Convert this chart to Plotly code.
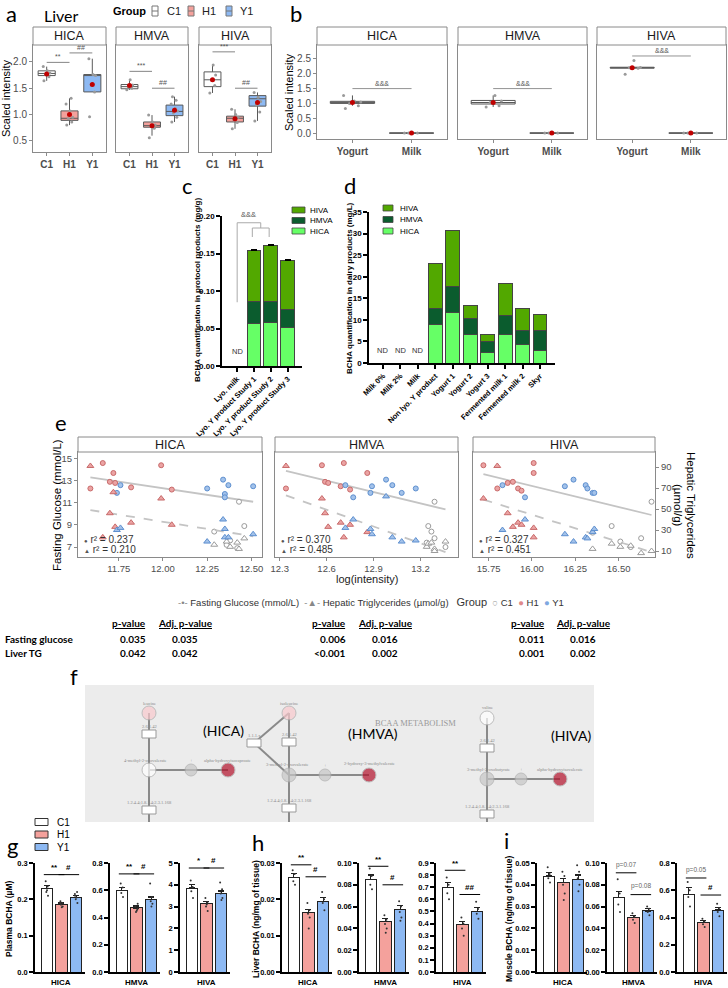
import plotly.graph_objects as go

W, H = 728, 988
def X(px): return px / W
def Y(py): return 1 - py / H

SANS = 'Liberation Sans, Arial, sans-serif'
CAL = 'Lato, Open Sans, sans-serif'
SERIF = 'Liberation Serif, serif'

GROUPS = ['C1', 'H1', 'Y1']
METABS = ['HICA', 'HMVA', 'HIVA']
FILL = {'C1': '#ffffff', 'H1': '#f4a19c', 'Y1': '#8db9f3'}

# ---------------- panel a data (scaled intensity, liver) ----------------
a_q1 = {'HICA': [1.74, 0.89, 1.43], 'HMVA': [1.49, 0.76, 0.98], 'HIVA': [1.53, 0.86, 1.16]}
a_med = {'HICA': [1.78, 0.93, 1.74], 'HMVA': [1.53, 0.79, 1.06], 'HIVA': [1.66, 0.93, 1.30]}
a_q3 = {'HICA': [1.83, 1.07, 1.76], 'HMVA': [1.57, 0.86, 1.18], 'HIVA': [1.81, 0.97, 1.36]}
a_lo = {'HICA': [1.64, 0.80, 1.43], 'HMVA': [1.47, 0.60, 0.86], 'HIVA': [1.41, 0.73, 0.88]}
a_hi = {'HICA': [1.91, 1.31, 2.06], 'HMVA': [1.66, 0.99, 1.34], 'HIVA': [1.94, 1.10, 1.42]}
a_mean = {'HICA': [1.77, 1.00, 1.57], 'HMVA': [1.55, 0.79, 1.08], 'HIVA': [1.66, 0.92, 1.23]}
a_pts = {
    'HICA': [[1.64, 1.72, 1.76, 1.79, 1.83, 1.91], [0.80, 0.86, 0.92, 0.95, 1.07, 1.20, 1.31], [0.96, 1.43, 1.57, 1.74, 1.76, 2.06]],
    'HMVA': [[1.47, 1.50, 1.53, 1.56, 1.66], [0.56, 0.74, 0.78, 0.80, 0.86, 0.99], [0.86, 0.95, 1.03, 1.07, 1.12, 1.20, 1.27, 1.34]],
    'HIVA': [[1.41, 1.55, 1.66, 1.75, 1.94], [0.73, 0.85, 0.90, 0.95, 1.00, 1.10], [0.88, 1.05, 1.18, 1.25, 1.33, 1.42]],
}
a_sig = {'HICA': [(0, 1, 1.99, '**'), (1, 2, 2.17, '##')],
         'HMVA': [(0, 1, 1.82, '***'), (1, 2, 1.50, '##')],
         'HIVA': [(0, 1, 2.19, '***'), (1, 2, 1.50, '##')]}

# ---------------- panel b data ----------------
B_CATS = ['Yogurt', 'Milk']
b_q1 = {'HICA': [1.00, 0.0], 'HMVA': [0.98, 0.0], 'HIVA': [2.19, 0.0]}
b_med = {'HICA': [1.03, 0.0], 'HMVA': [1.03, 0.0], 'HIVA': [2.20, 0.0]}
b_q3 = {'HICA': [1.07, 0.0], 'HMVA': [1.10, 0.0], 'HIVA': [2.22, 0.0]}
b_lo = {'HICA': [0.92, 0.0], 'HMVA': [0.88, 0.0], 'HIVA': [2.19, 0.0]}
b_hi = {'HICA': [1.27, 0.0], 'HMVA': [1.27, 0.0], 'HIVA': [2.22, 0.0]}
b_mean = {'HICA': [1.03, 0.0], 'HMVA': [1.03, 0.0], 'HIVA': [2.20, 0.0]}
b_pts = {'HICA': [[0.83, 0.92, 1.00, 1.05, 1.08, 1.27], [0.0, 0.0, 0.0]],
         'HMVA': [[0.88, 0.92, 1.03, 1.08, 1.27], [0.0, 0.0, 0.0]],
         'HIVA': [[1.98, 2.19, 2.20, 2.21, 2.45], [0.0, 0.0, 0.0]]}
b_sig = {'HICA': 1.50, 'HMVA': 1.50, 'HIVA': 2.60}

# ---------------- panel c data (mg/g) ----------------
c_cats = ['Lyo. milk', 'Lyo. Y product Study 1', 'Lyo. Y product Study 2', 'Lyo. Y product Study 3']
c_hica = [None, 0.057, 0.058, 0.052]
c_hmva = [None, 0.029, 0.028, 0.024]
c_hiva = [None, 0.068, 0.075, 0.065]
c_err = [0, 0.0012, 0.0012, 0.0010]

# ---------------- panel d data (mg/L) ----------------
d_cats = ['Milk 0%', 'Milk 2%', 'Milk', 'Non lyo. Y product', 'Yogurt 1', 'Yogurt 2', 'Yogurt 3',
          'Fermented milk 1', 'Fermented milk 2', 'Skyr']
d_hica = [None, None, None, 9.0, 11.6, 6.5, 2.4, 6.5, 4.4, 2.8]
d_hmva = [None, None, None, 3.7, 6.2, 3.7, 2.5, 4.4, 3.2, 4.8]
d_hiva = [None, None, None, 10.4, 13.0, 3.2, 1.6, 7.6, 5.1, 3.7]

# ---------------- panel e data ----------------
e_log = {
    'HICA': {'C1': [12.29, 12.36, 12.38, 12.42, 12.43, 12.46],
             'H1': [11.59, 11.66, 11.70, 11.72, 11.73, 11.82, 11.99, 12.05],
             'Y1': [11.74, 11.76, 12.25, 12.34, 12.35, 12.35, 12.37, 12.51]},
    'HMVA': {'C1': [13.24, 13.25, 13.27, 13.29, 13.29, 13.36],
             'H1': [12.34, 12.57, 12.59, 12.61, 12.69, 12.71, 12.75, 12.86],
             'Y1': [12.72, 12.77, 12.88, 12.89, 12.98, 13.02, 13.08, 13.17]},
    'HIVA': {'C1': [16.35, 16.46, 16.51, 16.57, 16.63, 16.69],
             'H1': [15.72, 15.80, 15.86, 15.89, 15.92, 15.94, 16.01, 16.01],
             'Y1': [15.83, 15.96, 16.19, 16.24, 16.31, 16.32, 16.35, 16.36]},
}
e_glu = {
    'HICA': {'C1': [8.4, 7.2, 7.6, 6.9, 11.1, 8.9], 'H1': [12.3, 14.6, 12.9, 13.7, 12.8, 12.4, 14.4, 12.2],
             'Y1': [11.9, 12.6, 12.3, 13.1, 11.8, 11.5, 12.6, 12.5]},
    'HMVA': {'C1': [7.4, 8.9, 8.4, 7.8, 11.1, 7.0], 'H1': [12.3, 14.4, 12.9, 12.8, 12.5, 14.6, 12.2, 13.7],
             'Y1': [12.6, 11.5, 11.9, 12.5, 13.1, 12.6, 11.9, 12.3]},
    'HIVA': {'C1': [8.3, 8.9, 7.5, 7.0, 7.8, 11.1], 'H1': [14.4, 12.3, 12.8, 12.9, 12.3, 12.1, 14.6, 13.7],
             'Y1': [12.6, 11.5, 12.5, 13.1, 12.6, 12.3, 11.9, 11.9]},
}
e_tg = {
    'HICA': {'C1': [16, 19, 14, 18, 12, 22], 'H1': [91, 23, 46, 66, 33, 37, 60, 35],
             'Y1': [30, 32, 19, 40, 31, 23, 23, 26]},
    'HMVA': {'C1': [14, 17, 18, 12, 10, 19], 'H1': [91, 60, 46, 33, 37, 23, 35, 28],
             'Y1': [32, 40, 31, 26, 62, 23, 19, 20]},
    'HIVA': {'C1': [12, 17, 14, 15, 8, 10], 'H1': [60, 91, 46, 33, 37, 35, 23, 32],
             'Y1': [30, 40, 26, 19, 23, 22, 28, 31]},
}
e_fit_x = {'HICA': [11.59, 12.51], 'HMVA': [12.34, 13.36], 'HIVA': [15.72, 16.69]}
e_fit_glu = {'HICA': [13.3, 11.1], 'HMVA': [13.9, 10.4], 'HIVA': [13.6, 9.9]}
e_fit_tg = {'HICA': [49, 24], 'HMVA': [63, 9], 'HIVA': [59, 9]}
e_r2_glu = {'HICA': '0.237', 'HMVA': '0.370', 'HIVA': '0.327'}
e_r2_tg = {'HICA': '0.210', 'HMVA': '0.485', 'HIVA': '0.451'}
e_xrange = {'HICA': [11.52, 12.56], 'HMVA': [12.27, 13.44], 'HIVA': [15.66, 16.71]}
e_ticks = {'HICA': [11.75, 12.0, 12.25, 12.5], 'HMVA': [12.3, 12.6, 12.9, 13.2], 'HIVA': [15.75, 16.0, 16.25, 16.5]}
e_ticktext = {'HICA': ['11.75', '12.00', '12.25', '12.50'], 'HMVA': ['12.3', '12.6', '12.9', '13.2'],
              'HIVA': ['15.75', '16.00', '16.25', '16.50']}

# table
t_p_glu = ['0.035', '0.006', '0.011']
t_adj_glu = ['0.035', '0.016', '0.016']
t_p_tg = ['0.042', '<0.001', '0.001']
t_adj_tg = ['0.042', '0.002', '0.002']

# ---------------- panel f diagram ----------------
f_node_x = [149, 149, 191, 228, 289, 289, 325, 369, 487, 487, 521, 560]
f_node_y = [713, 770, 770, 770, 713, 775, 775, 775, 718, 779, 779, 779]
f_node_c = ['#f9c9cd', '#ffffff', '#c6c6c6', '#b3102a', '#f9c9cd', '#c6c6c6', '#c6c6c6', '#b3102a',
            '#ffffff', '#c6c6c6', '#c6c6c6', '#b3102a']
f_node_s = [14, 14, 12, 14, 14, 14, 12, 14, 14, 14, 12, 14]
f_edges = [((149, 713), (149, 822)), ((149, 770), (228, 770)),
           ((289, 713), (289, 822)), ((289, 775), (369, 775)),
           ((254, 743), (289, 713)), ((254, 743), (289, 775)),
           ((487, 718), (487, 822)), ((487, 779), (560, 779))]
f_rects = [(149, 734), (149, 810), (289, 742), (289, 808), (254, 743), (487, 748), (487, 814)]
f_labels = [('leucine', 149, 703), ('4-methyl-2-oxovalerate', 145, 760), ('alpha-hydroxyisocaproate', 227, 760),
            ('isoleucine', 289, 703), ('3-methyl-2-oxovalerate', 287, 764), ('2-hydroxy-3-methylvalerate', 369, 763),
            ('valine', 487, 707), ('3-methyl-2-oxobutyrate', 488, 769), ('alpha-hydroxyisovalerate', 560, 769),
            ('2.6.1.42', 149, 726), ('2.6.1.42', 289, 734), ('2.6.1.42', 487, 740), ('1.1.1.x', 254, 735),
            ('1.2.4.4;1.8.1.4;2.3.1.168', 149, 802), ('1.2.4.4;1.8.1.4;2.3.1.168', 289, 800),
            ('1.2.4.4;1.8.1.4;2.3.1.168', 487, 806), ('+', 191, 760), ('+', 325, 765), ('+', 521, 769)]

# ---------------- panels g/h/i data ----------------
ghi_mean = {
    'g': {'HICA': [0.230, 0.187, 0.205], 'HMVA': [0.60, 0.47, 0.53], 'HIVA': [3.85, 3.15, 3.60]},
    'h': {'HICA': [0.0260, 0.0163, 0.0193], 'HMVA': [0.085, 0.046, 0.057], 'HIVA': [0.70, 0.395, 0.50]},
    'i': {'HICA': [0.0440, 0.0410, 0.0425], 'HMVA': [0.068, 0.050, 0.056], 'HIVA': [0.57, 0.365, 0.455]},
}
ghi_sem = {
    'g': {'HICA': [0.008, 0.003, 0.005], 'HMVA': [0.02, 0.015, 0.02], 'HIVA': [0.15, 0.10, 0.12]},
    'h': {'HICA': [0.0011, 0.0009, 0.0011], 'HMVA': [0.004, 0.003, 0.004], 'HIVA': [0.04, 0.025, 0.03]},
    'i': {'HICA': [0.0015, 0.002, 0.002], 'HMVA': [0.006, 0.002, 0.002], 'HIVA': [0.05, 0.015, 0.02]},
}
ghi_pts = {
    'g': {'HICA': [[0.25, 0.235, 0.22, 0.21, 0.225], [0.195, 0.19, 0.185, 0.18, 0.178, 0.19], [0.21, 0.22, 0.20, 0.19, 0.205, 0.215]],
          'HMVA': [[0.65, 0.62, 0.58, 0.55], [0.48, 0.46, 0.44, 0.50, 0.45], [0.65, 0.55, 0.52, 0.50, 0.48]],
          'HIVA': [[4.2, 3.9, 3.7, 3.4], [3.4, 3.2, 3.0, 2.8, 3.1], [4.1, 3.8, 3.6, 3.4, 3.3]]},
    'h': {'HICA': [[0.028, 0.027, 0.025, 0.024], [0.019, 0.017, 0.016, 0.015, 0.012], [0.022, 0.020, 0.019, 0.017]],
          'HMVA': [[0.095, 0.088, 0.080, 0.076], [0.052, 0.048, 0.044, 0.040, 0.036], [0.065, 0.060, 0.055, 0.050, 0.047]],
          'HIVA': [[0.78, 0.72, 0.65, 0.60], [0.45, 0.40, 0.36, 0.30], [0.58, 0.52, 0.48, 0.44]]},
    'i': {'HICA': [[0.048, 0.045, 0.043, 0.041], [0.046, 0.044, 0.040, 0.036, 0.033], [0.049, 0.046, 0.043, 0.040, 0.037]],
          'HMVA': [[0.085, 0.072, 0.062, 0.055], [0.054, 0.051, 0.048, 0.045], [0.060, 0.058, 0.055, 0.052]],
          'HIVA': [[0.66, 0.60, 0.55, 0.48], [0.39, 0.37, 0.35, 0.33], [0.50, 0.47, 0.44, 0.41]]},
}
ghi_range = {'g': {'HICA': (0.3, 0.1, '.1f'), 'HMVA': (0.8, 0.2, '.1f'), 'HIVA': (5, 1, 'd')},
             'h': {'HICA': (0.03, 0.01, '.2f'), 'HMVA': (0.10, 0.02, '.2f'), 'HIVA': (0.9, 0.1, '.1f')},
             'i': {'HICA': (0.05, 0.01, '.2f'), 'HMVA': (0.10, 0.02, '.2f'), 'HIVA': (0.8, 0.2, '.1f')}}
ghi_sig = {
    'g': {'HICA': [(0, 1, 0.268, '**'), (1, 2, 0.268, '#')], 'HMVA': [(0, 1, 0.72, '**'), (1, 2, 0.72, '#')],
          'HIVA': [(0, 1, 4.77, '*'), (1, 2, 4.77, '#')]},
    'h': {'HICA': [(0, 1, 0.0295, '**'), (1, 2, 0.0262, '#')], 'HMVA': [(0, 1, 0.097, '**'), (1, 2, 0.080, '#')],
          'HIVA': [(0, 1, 0.84, '**'), (1, 2, 0.64, '##')]},
    'i': {'HICA': [], 'HMVA': [(0, 1, 0.091, 'p=0.07'), (1, 2, 0.071, 'p=0.08')],
          'HIVA': [(0, 1, 0.69, 'p=0.05'), (1, 2, 0.565, '#')]},
}
ghi_title = {'g': 'Plasma BCHA (µM)', 'h': 'Liver BCHA (ng/mg of tissue)', 'i': 'Muscle BCHA (ng/mg of tissue)'}

# ====================================================================
fig = go.Figure()
shapes, annos = [], []
cnt = [0]


def new_axes(x0, x1, top, bottom, xa, ya):
    cnt[0] += 1
    n = cnt[0]
    xs, ys = ('x', 'y') if n == 1 else (f'x{n}', f'y{n}')
    xk, yk = ('xaxis', 'yaxis') if n == 1 else (f'xaxis{n}', f'yaxis{n}')
    xd = dict(domain=[X(x0), X(x1)], anchor=ys, showgrid=False, zeroline=False)
    xd.update(xa)
    yd = dict(domain=[Y(bottom), Y(top)], anchor=xs, showgrid=False, zeroline=False)
    yd.update(ya)
    fig.update_layout({xk: xd, yk: yd})
    return xs, ys


def sec_y(xs, ys, ya):
    cnt[0] += 1
    n = cnt[0]
    d = dict(overlaying=ys, anchor=xs, showgrid=False, zeroline=False)
    d.update(ya)
    fig.update_layout({f'yaxis{n}': d})
    return f'y{n}'


def A(x, y, text, size=10, color='#000', font=SANS, xanchor='center', yanchor='middle', angle=0,
      xref='paper', yref='paper'):
    if xref == 'paper':
        x = X(x)
    if yref == 'paper':
        y = Y(y)
    annos.append(dict(x=x, y=y, xref=xref, yref=yref, text=text, showarrow=False, textangle=angle,
                      font=dict(size=size, color=color, family=font), xanchor=xanchor, yanchor=yanchor))


def R(x0, y0, x1, y1, fill='rgba(0,0,0,0)', line='#000', lw=1, xref='paper', yref='paper', layer='above'):
    if xref == 'paper':
        x0, x1 = X(x0), X(x1)
    if yref == 'paper':
        y0, y1 = Y(y0), Y(y1)
    shapes.append(dict(type='rect', x0=x0, x1=x1, y0=y0, y1=y1, xref=xref, yref=yref, fillcolor=fill,
                       line=dict(color=line, width=lw), layer=layer))


def L(x0, y0, x1, y1, color='#000', width=1, dash='solid', xref='paper', yref='paper'):
    if xref == 'paper':
        x0, x1 = X(x0), X(x1)
    if yref == 'paper':
        y0, y1 = Y(y0), Y(y1)
    shapes.append(dict(type='line', x0=x0, x1=x1, y0=y0, y1=y1, xref=xref, yref=yref,
                       line=dict(color=color, width=width, dash=dash)))


JIT = [-0.12, 0.10, -0.05, 0.14, 0.03, -0.15, 0.07, -0.09]
GG_LINE = '#8a8a8a'
GG_TICK = dict(size=10, color='#4d4d4d', family=SANS)


def gg_axis(**kw):
    d = dict(showline=True, mirror=True, linecolor=GG_LINE, linewidth=1, ticks='outside', ticklen=3,
             tickcolor=GG_LINE, tickfont=GG_TICK)
    d.update(kw)
    return d


def box_facet(xs, ys, pos, q1, med, q3, lo, hi, mean, pts, fill, line='#5a5a5a'):
    fig.add_trace(go.Box(x=[pos], q1=[q1], median=[med], q3=[q3], lowerfence=[lo], upperfence=[hi],
                         width=0.75, whiskerwidth=0, fillcolor=fill, line=dict(color=line, width=1),
                         boxpoints=False, xaxis=xs, yaxis=ys, showlegend=False, hoverinfo='skip'))
    fig.add_trace(go.Scatter(x=[pos + JIT[i % len(JIT)] for i in range(len(pts))], y=pts, mode='markers',
                             marker=dict(size=3, color='#9a9a9a'), xaxis=xs, yaxis=ys, showlegend=False,
                             hoverinfo='skip'))
    fig.add_trace(go.Scatter(x=[pos], y=[mean], mode='markers', marker=dict(size=5, color='#c00000'),
                             xaxis=xs, yaxis=ys, showlegend=False, hoverinfo='skip'))


# ---------------- panel a ----------------
A(4, 14, 'a', 22, '#000', CAL, 'left')
A(42, 15, 'Liver', 16, '#000', CAL, 'left')
A(111, 11, '<b>Group</b>', 11, '#000', SANS, 'left')
leg_x = [(152, 'C1', 165), (188, 'H1', 200), (226, 'Y1', 238)]
for (bx, g, tx) in leg_x:
    R(bx, 6, bx + 6, 16, FILL[g], '#777', 1)
    L(bx, 11, bx + 6, 11, '#777', 1)
    A(tx, 11, g, 11, '#222', SANS, 'left')

a_x = [(33, 106), (116, 188), (199, 271)]
for k, m in enumerate(METABS):
    x0, x1 = a_x[k]
    xs, ys = new_axes(x0, x1, 45, 152,
                      gg_axis(range=[-0.6, 2.6], tickvals=[0, 1, 2], ticktext=[f'<b>{g}</b>' for g in GROUPS]),
                      gg_axis(range=[0.29, 2.32], tickvals=[0.5, 1.0, 1.5, 2.0],
                              ticktext=['0.5', '1.0', '1.5', '2.0'], showticklabels=(k == 0),
                              ticks='outside' if k == 0 else ''))
    R(x0, 27, x1, 45, 'white', GG_LINE, 1)
    A((x0 + x1) / 2, 36, m, 12.5, '#1a1a1a')
    for gi, g in enumerate(GROUPS):
        box_facet(xs, ys, gi, a_q1[m][gi], a_med[m][gi], a_q3[m][gi], a_lo[m][gi], a_hi[m][gi],
                  a_mean[m][gi], a_pts[m][gi], FILL[g])
    for (i, j, yv, s) in a_sig[m]:
        L(i, yv, j, yv, '#666', 0.8, xref=xs, yref=ys)
        A((i + j) / 2, yv, s, 7, '#555', xref=xs, yref=ys, yanchor='bottom')
A(6, 98, 'Scaled intensity', 11, '#000', SANS, angle=-90)

# ---------------- panel b ----------------
A(288, 14, 'b', 22, '#000', CAL, 'left')
b_x = [(317, 447), (458, 587), (597, 726)]
for k, m in enumerate(METABS):
    x0, x1 = b_x[k]
    xs, ys = new_axes(x0, x1, 45, 139,
                      gg_axis(range=[-0.6, 1.6], tickvals=[0, 1], ticktext=[f'<b>{c}</b>' for c in B_CATS]),
                      gg_axis(range=[-0.2, 2.97], tickvals=[0, 0.5, 1.0, 1.5, 2.0, 2.5],
                              ticktext=['0.0', '0.5', '1.0', '1.5', '2.0', '2.5'], showticklabels=(k == 0),
                              ticks='outside' if k == 0 else ''))
    R(x0, 27, x1, 45, 'white', GG_LINE, 1)
    A((x0 + x1) / 2, 36, m, 12.5, '#1a1a1a')
    for ci in range(2):
        box_facet(xs, ys, ci, b_q1[m][ci], b_med[m][ci], b_q3[m][ci], b_lo[m][ci], b_hi[m][ci],
                  b_mean[m][ci], b_pts[m][ci], '#ffffff', '#555')
    L(0, b_sig[m], 1, b_sig[m], '#777', 0.8, xref=xs, yref=ys)
    A(0.5, b_sig[m], '&&&', 7, '#555', xref=xs, yref=ys, yanchor='bottom')
A(289, 92, 'Scaled intensity', 11, '#000', SANS, angle=-90)

# ---------------- panel c ----------------
GP_Y = dict(showline=True, linecolor='black', linewidth=1.5, ticks='outside', ticklen=4, tickwidth=1.5,
            tickcolor='black', tickfont=dict(size=8, color='black', family=SANS, weight='bold'))
GP_X = dict(showline=True, linecolor='black', linewidth=1.5, ticks='outside', ticklen=4, tickwidth=1.5,
            tickcolor='black', tickangle=-45, tickfont=dict(size=7.5, color='black', family=SANS, weight='bold'))
HICA_C, HMVA_C, HIVA_C = '#66ff66', '#0b5c2e', '#52a800'

A(180, 185, 'c', 22, '#000', CAL, 'left')
xs, ys = new_axes(222, 302, 216, 366,
                  dict(GP_X, range=[-0.9, 3.85], tickvals=[0, 1, 2, 3], ticktext=c_cats),
                  dict(GP_Y, range=[0, 0.20], tickvals=[0, 0.05, 0.10, 0.15, 0.20], tickformat='.2f'))
for vals, col in [(c_hica, HICA_C), (c_hmva, HMVA_C), (c_hiva, HIVA_C)]:
    fig.add_trace(go.Bar(x=[0, 1, 2, 3], y=vals, width=0.82, marker=dict(color=col, line=dict(color='#444', width=1)),
                         error_y=dict(type='data', array=c_err, symmetric=False, arrayminus=[0] * 4, width=3,
                                      thickness=1.2, color='black'),
                         xaxis=xs, yaxis=ys, showlegend=False, hoverinfo='skip'))
A(0, 0.019, 'ND', 7.5, '#333', xref=xs, yref=ys)
# bracket
L(0, 0.085, 0, 0.191, '#aaa', 1, xref=xs, yref=ys)
L(0, 0.191, 1.4, 0.191, '#aaa', 1, xref=xs, yref=ys)
L(1.4, 0.191, 1.4, 0.184, '#aaa', 1, xref=xs, yref=ys)
L(0.9, 0.184, 1.9, 0.184, '#aaa', 1, xref=xs, yref=ys)
L(0.9, 0.184, 0.9, 0.172, '#aaa', 1, xref=xs, yref=ys)
L(1.9, 0.184, 1.9, 0.172, '#aaa', 1, xref=xs, yref=ys)
A(0.65, 0.193, '&&&', 7.5, '#555', xref=xs, yref=ys, yanchor='bottom')
for k, (lab, col) in enumerate([('HIVA', HIVA_C), ('HMVA', HMVA_C), ('HICA', HICA_C)]):
    yy = 210 + k * 10.5
    R(292, yy - 3, 305, yy + 3, col, '#444', 0.8)
    A(308, yy, lab, 8, '#000', SANS, 'left')
A(198, 290, '<b>BCHA quantification in protocol products (mg/g)</b>', 8, '#000', SANS, angle=-90)

# ---------------- panel d ----------------
A(342, 185, 'd', 22, '#000', CAL, 'left')
xs, ys = new_axes(369, 555, 212, 363,
                  dict(GP_X, range=[-0.8, 9.86], tickvals=list(range(10)), ticktext=d_cats),
                  dict(GP_Y, range=[0, 35], tickvals=[0, 5, 10, 15, 20, 25, 30, 35]))
for vals, col in [(d_hica, HICA_C), (d_hmva, HMVA_C), (d_hiva, HIVA_C)]:
    fig.add_trace(go.Bar(x=list(range(10)), y=vals, width=0.8, marker=dict(color=col, line=dict(color='#444', width=1)),
                         xaxis=xs, yaxis=ys, showlegend=False, hoverinfo='skip'))
for i in range(3):
    A(i, 2.8, 'ND', 7.5, '#333', xref=xs, yref=ys)
for k, (lab, col) in enumerate([('HIVA', HIVA_C), ('HMVA', HMVA_C), ('HICA', HICA_C)]):
    yy = 208 + k * 11.5
    R(383, yy - 3, 393, yy + 3, col, '#444', 0.8)
    A(398, yy, lab, 8, '#000', SANS, 'left')
A(349, 288, '<b>BCHA quantification in dairy products (mg/L)</b>', 8, '#000', SANS, angle=-90)

# ---------------- panel e ----------------
A(53, 422, 'e', 22, '#000', CAL, 'left')
E_FILL = {'C1': '#ffffff', 'H1': '#eba3a3', 'Y1': '#a3c2ea'}
E_EDGE = {'C1': '#9a9a9a', 'H1': '#c86a6a', 'Y1': '#5d8fcf'}
e_x = [(78, 262), (275, 458), (473, 655)]
for k, m in enumerate(METABS):
    x0, x1 = e_x[k]
    xs, ys = new_axes(x0, x1, 452, 557,
                      gg_axis(range=e_xrange[m], tickvals=e_ticks[m], ticktext=e_ticktext[m],
                              tickfont=dict(size=9.5, color='#4d4d4d', family=SANS)),
                      gg_axis(range=[6.1, 15.6], tickvals=[7, 9, 11, 13, 15], showticklabels=(k == 0),
                              ticks='outside' if k == 0 else '',
                              tickfont=dict(size=9.5, color='#4d4d4d', family=SANS)))
    ys2 = sec_y(xs, ys, dict(range=[4.3, 104.3], side='right', visible=(k == 2), tickvals=[10, 30, 50, 70, 90],
                             ticks='outside', ticklen=3, tickcolor=GG_LINE, showline=False,
                             tickfont=dict(size=9.5, color='#4d4d4d', family=SANS)))
    R(x0, 437, x1, 452, 'white', GG_LINE, 1)
    A((x0 + x1) / 2, 444.5, m, 12.5, '#1a1a1a')
    fig.add_trace(go.Scatter(x=e_fit_x[m], y=e_fit_glu[m], mode='lines', line=dict(color='#c4c4c4', width=1.8),
                             xaxis=xs, yaxis=ys, showlegend=False, hoverinfo='skip'))
    fig.add_trace(go.Scatter(x=e_fit_x[m], y=e_fit_tg[m], mode='lines',
                             line=dict(color='#c4c4c4', width=1.8, dash='dash'),
                             xaxis=xs, yaxis=ys2, showlegend=False, hoverinfo='skip'))
    for g in GROUPS:
        fig.add_trace(go.Scatter(x=e_log[m][g], y=e_glu[m][g], mode='markers',
                                 marker=dict(symbol='circle', size=5, color=E_FILL[g],
                                             line=dict(color=E_EDGE[g], width=1)),
                                 xaxis=xs, yaxis=ys, showlegend=False, hoverinfo='skip'))
        fig.add_trace(go.Scatter(x=e_log[m][g], y=e_tg[m][g], mode='markers',
                                 marker=dict(symbol='triangle-up', size=6, color=E_FILL[g],
                                             line=dict(color=E_EDGE[g], width=1)),
                                 xaxis=xs, yaxis=ys2, showlegend=False, hoverinfo='skip'))
    A(x0 + 4, 539, f'<span style="font-size:6px;color:#555">●</span> r² = {e_r2_glu[m]}', 10, '#333', SANS, 'left')
    A(x0 + 4, 549, f'<span style="font-size:6px;color:#555">▲</span> r² = {e_r2_tg[m]}', 10, '#333', SANS, 'left')
A(367, 579, 'log(intensity)', 11, '#222')
A(57, 505, 'Fasting Glucose (mmol/L)', 11.5, '#000', angle=-90)
A(691, 505, 'Hepatic Triglycerides', 11.5, '#000', angle=90)
A(678, 505, '(µmol/g)', 11.5, '#000', angle=90)
A(371, 602, '<span style="color:#888">-•-</span> Fasting Glucose (mmol/L)  <span style="color:#888">-▲-</span> '
            'Hepatic Triglycerides (µmol/g)   <span style="font-size:11px">Group</span>  '
            '<span style="color:#999">○</span> C1  <span style="color:#e08a8a">●</span> H1  '
            '<span style="color:#7fa8e0">●</span> Y1', 9.5, '#333')

# table
A(3, 639, '<b>Fasting glucose</b>', 10, '#000', CAL, 'left')
A(3, 653, '<b>Liver TG</b>', 10, '#000', CAL, 'left')
t_pr = [148, 348, 547]
t_adj = [185, 385, 583]
for k in range(3):
    A(t_pr[k], 623, '<b><u>p-value</u></b>', 10, '#000', CAL, 'right')
    A(t_adj[k], 623, '<b><u>Adj. p-value</u></b>', 10, '#000', CAL)
    A(t_pr[k], 639, f'<b>{t_p_glu[k]}</b>', 10, '#000', CAL, 'right')
    A(t_adj[k], 639, f'<b>{t_adj_glu[k]}</b>', 10, '#000', CAL)
    A(t_pr[k], 653, f'<b>{t_p_tg[k]}</b>', 10, '#000', CAL, 'right')
    A(t_adj[k], 653, f'<b>{t_adj_tg[k]}</b>', 10, '#000', CAL)

# ---------------- panel f ----------------
A(68, 676, 'f', 22, '#000', CAL, 'left')
R(85, 685, 594, 822, '#ececec', 'rgba(0,0,0,0)', 0, layer='below')
xs, ys = new_axes(85, 594, 685, 822, dict(range=[85, 594], visible=False), dict(range=[822, 685], visible=False))
ex, ey = [], []
for (p, q) in f_edges:
    ex += [p[0], q[0], None]
    ey += [p[1], q[1], None]
fig.add_trace(go.Scatter(x=ex, y=ey, mode='lines', line=dict(color='#8a8a8a', width=2), xaxis=xs, yaxis=ys,
                         showlegend=False, hoverinfo='skip'))
for (rx, ry) in f_rects:
    R(rx - 7, ry - 4, rx + 7, ry + 4, 'white', '#999', 1, xref=xs, yref=ys)
fig.add_trace(go.Scatter(x=f_node_x, y=f_node_y, mode='markers',
                         marker=dict(size=f_node_s, color=f_node_c, line=dict(color='#aaa', width=1)),
                         xaxis=xs, yaxis=ys, showlegend=False, hoverinfo='skip'))
for (t, lx, ly) in f_labels:
    A(lx, ly, t, 4.5, '#888', SERIF, xref=xs, yref=ys)
A(415, 723, 'BCAA METABOLISM', 8.5, '#9a9a9a', SERIF, xref=xs, yref=ys)
A(223, 730, '(HICA)', 14, '#000', CAL, xref=xs, yref=ys)
A(373, 733, '(HMVA)', 14, '#000', CAL, xref=xs, yref=ys)
A(571, 735, '(HIVA)', 14, '#000', CAL, xref=xs, yref=ys)

# ---------------- panels g/h/i ----------------
GHI_FILL = {'C1': '#ffffff', 'H1': '#f4a19c', 'Y1': '#8db9f3'}
for k, g in enumerate(GROUPS):
    yy = 822 + k * 12.5
    R(35, yy - 3.5, 48, yy + 3.5, GHI_FILL[g], '#333', 1)
    A(55, yy, g, 10, '#000', SANS, 'left')
A(5, 845, 'g', 22, '#000', CAL, 'left')
A(250, 842, 'h', 22, '#000', CAL, 'left')
A(502, 840, 'i', 22, '#000', CAL, 'left')

ghi_axes = {'g': [35, 110, 180], 'h': [282, 359, 436], 'i': [537, 607, 677]}
ghi_ttl_x = {'g': 9, 'h': 256, 'i': 509}
for p in ['g', 'h', 'i']:
    for k, m in enumerate(METABS):
        ax0 = ghi_axes[p][k]
        top, step, fmt = ghi_range[p][m]
        tv = [round(step * i, 4) for i in range(int(round(top / step)) + 1)]
        ya = dict(GP_Y, range=[0, top], tickvals=tv)
        ya['tickfont'] = dict(size=7.5, color='black', family=SANS, weight='bold')
        if fmt == 'd':
            ya['ticktext'] = [str(int(v)) for v in tv]
        else:
            ya['tickformat'] = fmt
        xs, ys = new_axes(ax0, ax0 + 50, 863, 972,
                          dict(range=[-0.8, 2.6], showline=True, linecolor='black', linewidth=1.5,
                               showticklabels=False, ticks=''), ya)
        for gi, g in enumerate(GROUPS):
            fig.add_trace(go.Bar(x=[gi], y=[ghi_mean[p][m][gi]], width=0.78,
                                 marker=dict(color=GHI_FILL[g], line=dict(color='#222', width=1)),
                                 error_y=dict(type='data', array=[ghi_sem[p][m][gi]], arrayminus=[0], symmetric=False,
                                              width=3, thickness=1.2, color='#222'),
                                 xaxis=xs, yaxis=ys, showlegend=False, hoverinfo='skip'))
            pts = ghi_pts[p][m][gi]
            fig.add_trace(go.Scatter(x=[gi + 0.6 * JIT[i % len(JIT)] for i in range(len(pts))], y=pts,
                                     mode='markers', marker=dict(size=2, color='#333'), xaxis=xs, yaxis=ys,
                                     showlegend=False, hoverinfo='skip'))
        for (i, j, yv, s) in ghi_sig[p][m]:
            L(i - 0.2, yv, j + 0.2, yv, '#000', 1, xref=xs, yref=ys)
            if s.startswith('p='):
                A((i + j) / 2, yv + top * 0.02, s, 6.5, '#666', xref=xs, yref=ys, yanchor='bottom')
            else:
                A((i + j) / 2, yv + top * 0.005, f'<b>{s}</b>', 8, '#000', xref=xs, yref=ys, yanchor='bottom')
        A(1, 982, f'<b>{m}</b>', 8, '#000', xref=xs)
    A(ghi_ttl_x[p], 919, f'<b>{ghi_title[p]}</b>', 8.5, '#000', SANS, angle=-90)

fig.update_layout(width=W, height=H, margin=dict(l=0, r=0, t=0, b=0), template='none',
                  paper_bgcolor='white', plot_bgcolor='rgba(0,0,0,0)', showlegend=False, barmode='stack',
                  shapes=shapes, annotations=annos, font=dict(family=SANS))
fig.write_html("out.html", config={'displayModeBar': False},
               post_script="document.body.style.margin='0px';")
